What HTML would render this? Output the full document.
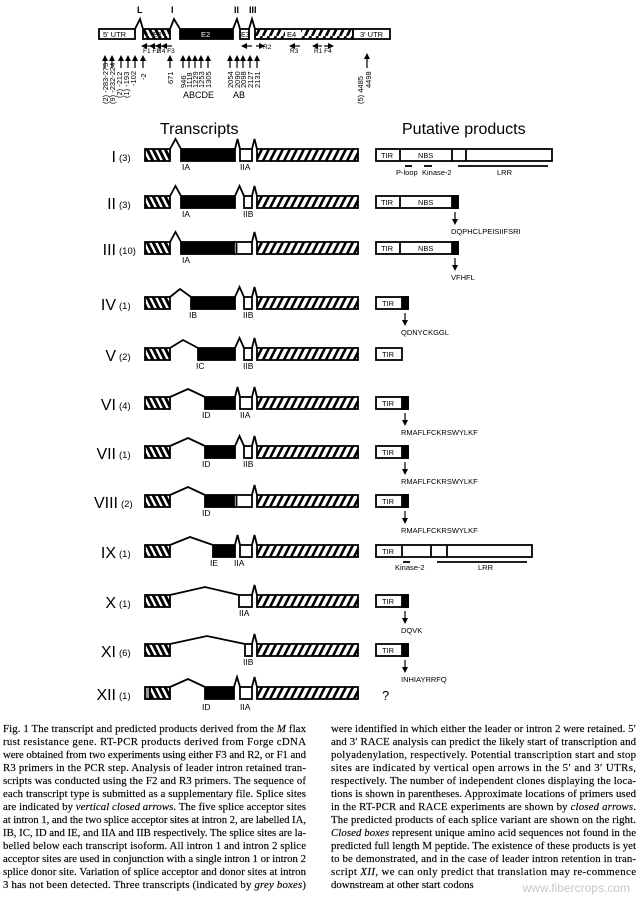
<!DOCTYPE html>
<html><head><meta charset="utf-8"><style>
html,body{margin:0;padding:0;background:#fff;}
svg{display:block;}
.s{font-family:"Liberation Sans",sans-serif;}
.c{font-family:"Liberation Serif",serif;font-size:10.8px;fill:#000;stroke:#000;stroke-width:0.15px;}
</style></head><body>
<svg width="640" height="900" viewBox="0 0 640 900" xmlns="http://www.w3.org/2000/svg">
<defs>
<pattern id="hl" width="6" height="12" patternUnits="userSpaceOnUse"><rect width="6" height="12" fill="#fff"/><path d="M-3,0 L3,12 M3,0 L9,12" stroke="#000" stroke-width="3"/></pattern>
<pattern id="hr" width="7" height="12" patternUnits="userSpaceOnUse"><rect width="7" height="12" fill="#fff"/><path d="M3,0 L-3,12 M10,0 L4,12" stroke="#000" stroke-width="2.6"/></pattern>
<marker id="ah" markerWidth="5" markerHeight="5" refX="2.5" refY="2.5" orient="auto"><path d="M0,0 L5,2.5 L0,5 z" fill="#000"/></marker>
</defs>
<g stroke="#000" stroke-width="1.8" fill="none">
<!-- top gene model -->
<g>
<rect x="99" y="29" width="36" height="10" fill="#fff"/>
<rect x="143" y="29" width="27" height="10" fill="url(#hl)"/>
<rect x="180" y="29" width="53" height="10" fill="#000"/>
<rect x="240" y="29" width="9" height="10" fill="#fff"/>
<rect x="255" y="29" width="98" height="10" fill="url(#hr)"/>
<rect x="285" y="30" width="16" height="8" fill="#fff" stroke="none"/>
<rect x="353" y="29" width="37" height="10" fill="#fff"/>
<polyline points="135,29 140,19 143,29"/>
<polyline points="170,29 174,19 180,29"/>
<polyline points="233,29 237,19 240,29"/>
<polyline points="249,29 252,19 255,29"/>
</g>
<g marker-end="url(#ah)" stroke-width="1.2">
<line x1="105" y1="68" x2="105" y2="58"/><line x1="112" y1="68" x2="112" y2="58"/><line x1="121" y1="68" x2="121" y2="58"/><line x1="128" y1="68" x2="128" y2="58"/><line x1="135" y1="68" x2="135" y2="58"/><line x1="143" y1="68" x2="143" y2="58"/>
<line x1="170" y1="68" x2="170" y2="58"/><line x1="183" y1="68" x2="183" y2="58"/><line x1="189" y1="68" x2="189" y2="58"/><line x1="195" y1="68" x2="195" y2="58"/><line x1="201" y1="68" x2="201" y2="58"/><line x1="208" y1="68" x2="208" y2="58"/>
<line x1="230" y1="68" x2="230" y2="58"/><line x1="237" y1="68" x2="237" y2="58"/><line x1="243" y1="68" x2="243" y2="58"/><line x1="250" y1="68" x2="250" y2="58"/><line x1="257" y1="68" x2="257" y2="58"/>
<line x1="367" y1="68" x2="367" y2="56"/>
<line x1="152" y1="46" x2="144" y2="46"/><line x1="160" y1="46" x2="152" y2="46"/><line x1="166" y1="46" x2="158" y2="46"/><line x1="172" y1="46" x2="164" y2="46"/>
<line x1="252" y1="46" x2="244" y2="46"/><line x1="256" y1="46" x2="262" y2="46"/>
<line x1="300" y1="46" x2="292" y2="46"/><line x1="322" y1="46" x2="315" y2="46"/><line x1="324" y1="46" x2="331" y2="46"/>
</g>
</g>
<g class="s" font-size="9" fill="#000">
<text x="137" y="13" font-weight="bold">L</text><text x="171" y="13" font-weight="bold">I</text><text x="234" y="13" font-weight="bold">II</text><text x="249" y="13" font-weight="bold">III</text>
<text x="103" y="37" font-size="7.5">5' UTR</text><text x="153" y="37" font-size="7.5">E1</text>
<text x="201" y="37" font-size="7.5" fill="#fff">E2</text><text x="241" y="37" font-size="7">E3</text>
<text x="287" y="37" font-size="7.5">E4</text><text x="360" y="37" font-size="7.5">3' UTR</text>
<g font-size="6.5"><text x="143" y="53">F1 F2</text><text x="157" y="53">R4 F3</text><text x="263" y="49">R2</text><text x="290" y="53">R3</text><text x="314" y="53">R1 F4</text></g>
<g font-size="7.5">
<text transform="translate(108,104) rotate(-90)">(2) -283-275</text>
<text transform="translate(115,104) rotate(-90)">(9) -232-224</text>
<text transform="translate(122,98) rotate(-90)">(2) -212</text>
<text transform="translate(129,98) rotate(-90)">(1) -193</text>
<text transform="translate(136,86) rotate(-90)">-102</text>
<text transform="translate(146,80) rotate(-90)">-2</text>
<text transform="translate(173,84) rotate(-90)">671</text>
<text transform="translate(186,88) rotate(-90)">946</text>
<text transform="translate(192,88) rotate(-90)">1118</text>
<text transform="translate(198,88) rotate(-90)">1229</text>
<text transform="translate(204,88) rotate(-90)">1253</text>
<text transform="translate(211,88) rotate(-90)">1305</text>
<text transform="translate(233,88) rotate(-90)">2054</text>
<text transform="translate(240,88) rotate(-90)">2090</text>
<text transform="translate(246,88) rotate(-90)">2098</text>
<text transform="translate(253,88) rotate(-90)">2127</text>
<text transform="translate(260,88) rotate(-90)">2131</text>
<text transform="translate(363,104) rotate(-90)">(5) 4485</text>
<text transform="translate(371,88) rotate(-90)">4498</text>
</g>
<text x="183" y="98" font-size="9">ABCDE</text><text x="233" y="98" font-size="9">AB</text>
<text x="160" y="134" font-size="16">Transcripts</text>
<text x="402" y="134" font-size="16">Putative products</text>
</g>

<g stroke="#000" stroke-width="1.8" fill="none">
<g transform="translate(0,149)"><rect x="145" width="25" height="12" fill="url(#hl)"/><rect x="257" width="101" height="12" fill="url(#hr)"/>
<polyline points="170,0 175.5,-10 181,0"/><rect x="181" width="54" height="12" fill="#000"/><polyline points="235,0 237.5,-10 240,0"/><rect x="240" width="12" height="12" fill="#fff"/><polyline points="252,0 254.5,-10 257,0"/>
<rect x="376" width="176" height="12" fill="#fff"/><line x1="400" y1="0" x2="400" y2="12"/><line x1="452" y1="0" x2="452" y2="12"/><line x1="466" y1="0" x2="466" y2="12"/>
<line x1="405" y1="17" x2="412" y2="17"/><line x1="424" y1="17" x2="432" y2="17"/><line x1="458" y1="17" x2="548" y2="17"/></g>
<g transform="translate(0,196)"><rect x="145" width="25" height="12" fill="url(#hl)"/><rect x="257" width="101" height="12" fill="url(#hr)"/>
<polyline points="170,0 175.5,-10 181,0"/><rect x="181" width="54" height="12" fill="#000"/><polyline points="235,0 239.5,-10 244,0"/><rect x="244" width="8" height="12" fill="#fff"/><polyline points="252,0 254.5,-10 257,0"/>
<rect x="376" width="82" height="12" fill="#fff"/><line x1="400" y1="0" x2="400" y2="12"/><rect x="452" width="6" height="12" fill="#000"/></g>
<g transform="translate(0,242)"><rect x="145" width="25" height="12" fill="url(#hl)"/><rect x="257" width="101" height="12" fill="url(#hr)"/>
<polyline points="170,0 175.5,-10 181,0"/><rect x="181" width="53" height="12" fill="#000"/><rect x="234" width="18" height="12" fill="#fff"/><line x1="236.5" y1="1" x2="236.5" y2="11"/><polyline points="252,0 254.5,-10 257,0"/>
<rect x="376" width="82" height="12" fill="#fff"/><line x1="400" y1="0" x2="400" y2="12"/><rect x="452" width="6" height="12" fill="#000"/></g>
<g transform="translate(0,297)"><rect x="145" width="25" height="12" fill="url(#hl)"/><rect x="257" width="101" height="12" fill="url(#hr)"/>
<polyline points="170,0 180,-8 191,0"/><rect x="191" width="44" height="12" fill="#000"/><polyline points="235,0 239.5,-10 244,0"/><rect x="244" width="8" height="12" fill="#fff"/><polyline points="252,0 254.5,-10 257,0"/>
<rect x="376" width="32" height="12" fill="#fff"/><rect x="402" width="6" height="12" fill="#000"/></g>
<g transform="translate(0,348)"><rect x="145" width="25" height="12" fill="url(#hl)"/><rect x="257" width="101" height="12" fill="url(#hr)"/>
<polyline points="170,0 183,-8 198,0"/><rect x="198" width="37" height="12" fill="#000"/><polyline points="235,0 239.5,-10 244,0"/><rect x="244" width="8" height="12" fill="#fff"/><polyline points="252,0 254.5,-10 257,0"/>
<rect x="376" width="26" height="12" fill="#fff"/></g>
<g transform="translate(0,397)"><rect x="145" width="25" height="12" fill="url(#hl)"/><rect x="257" width="101" height="12" fill="url(#hr)"/>
<polyline points="170,0 188,-8 205,0"/><rect x="205" width="30" height="12" fill="#000"/><polyline points="235,0 237.5,-10 240,0"/><rect x="240" width="12" height="12" fill="#fff"/><polyline points="252,0 254.5,-10 257,0"/>
<rect x="376" width="32" height="12" fill="#fff"/><rect x="402" width="6" height="12" fill="#000"/></g>
<g transform="translate(0,446)"><rect x="145" width="25" height="12" fill="url(#hl)"/><rect x="257" width="101" height="12" fill="url(#hr)"/>
<polyline points="170,0 188,-8 205,0"/><rect x="205" width="30" height="12" fill="#000"/><polyline points="235,0 239.5,-10 244,0"/><rect x="244" width="8" height="12" fill="#fff"/><polyline points="252,0 254.5,-10 257,0"/>
<rect x="376" width="32" height="12" fill="#fff"/><rect x="402" width="6" height="12" fill="#000"/></g>
<g transform="translate(0,495)"><rect x="145" width="25" height="12" fill="url(#hl)"/><rect x="257" width="101" height="12" fill="url(#hr)"/>
<polyline points="170,0 188,-8 205,0"/><rect x="205" width="29" height="12" fill="#000"/><rect x="234" width="18" height="12" fill="#fff"/><line x1="236.5" y1="1" x2="236.5" y2="11"/><polyline points="252,0 254.5,-10 257,0"/>
<rect x="376" width="32" height="12" fill="#fff"/><rect x="402" width="6" height="12" fill="#000"/></g>
<g transform="translate(0,545)"><rect x="145" width="25" height="12" fill="url(#hl)"/><rect x="257" width="101" height="12" fill="url(#hr)"/>
<polyline points="170,0 190,-8 213,0"/><rect x="213" width="22" height="12" fill="#000"/><polyline points="235,0 237.5,-10 240,0"/><rect x="240" width="12" height="12" fill="#fff"/><polyline points="252,0 254.5,-10 257,0"/>
<rect x="376" width="156" height="12" fill="#fff"/><line x1="402" y1="0" x2="402" y2="12"/><line x1="431" y1="0" x2="431" y2="12"/><line x1="447" y1="0" x2="447" y2="12"/>
<line x1="403" y1="17" x2="410" y2="17"/><line x1="437" y1="17" x2="527" y2="17"/></g>
<g transform="translate(0,595)"><rect x="145" width="25" height="12" fill="url(#hl)"/><rect x="257" width="101" height="12" fill="url(#hr)"/>
<polyline points="170,0 205,-8 239,0"/><rect x="239" width="13" height="12" fill="#fff"/><polyline points="252,0 254.5,-10 257,0"/>
<rect x="376" width="32" height="12" fill="#fff"/><rect x="402" width="6" height="12" fill="#000"/></g>
<g transform="translate(0,644)"><rect x="145" width="25" height="12" fill="url(#hl)"/><rect x="257" width="101" height="12" fill="url(#hr)"/>
<polyline points="170,0 207,-8 245,0"/><rect x="245" width="7" height="12" fill="#fff"/><polyline points="252,0 254.5,-10 257,0"/>
<rect x="376" width="32" height="12" fill="#fff"/><rect x="402" width="6" height="12" fill="#000"/></g>
<g transform="translate(0,687)"><rect x="145" width="5" height="12" fill="#999"/><rect x="150" width="20" height="12" fill="url(#hl)"/><rect x="257" width="101" height="12" fill="url(#hr)"/>
<polyline points="170,0 188,-8 205,0"/><rect x="205" width="29" height="12" fill="#000"/><polyline points="234,0 237,-10 240,0"/><rect x="240" width="12" height="12" fill="#fff"/><polyline points="252,0 254.5,-10 257,0"/></g>
<g stroke-width="1.2" marker-end="url(#ah)">
<line x1="455" y1="212" x2="455" y2="222"/><line x1="455" y1="258" x2="455" y2="268"/>
<line x1="405" y1="313" x2="405" y2="323"/><line x1="405" y1="413" x2="405" y2="423"/><line x1="405" y1="462" x2="405" y2="472"/><line x1="405" y1="511" x2="405" y2="521"/><line x1="405" y1="611" x2="405" y2="621"/><line x1="405" y1="660" x2="405" y2="670"/>
</g>
</g>

<g class="s" fill="#000">
<g font-size="16">
<text x="116" y="162" text-anchor="end">I</text><text x="116" y="209" text-anchor="end">II</text><text x="116" y="255" text-anchor="end">III</text><text x="116" y="310" text-anchor="end">IV</text><text x="116" y="361" text-anchor="end">V</text><text x="116" y="410" text-anchor="end">VI</text><text x="116" y="459" text-anchor="end">VII</text><text x="118" y="508" text-anchor="end">VIII</text><text x="116" y="558" text-anchor="end">IX</text><text x="116" y="608" text-anchor="end">X</text><text x="116" y="657" text-anchor="end">XI</text><text x="116" y="700" text-anchor="end">XII</text>
</g>
<g font-size="9.5">
<text x="119" y="161">(3)</text><text x="119" y="208">(3)</text><text x="119" y="254">(10)</text><text x="119" y="309">(1)</text><text x="119" y="360">(2)</text><text x="119" y="409">(4)</text><text x="119" y="458">(1)</text><text x="121" y="507">(2)</text><text x="119" y="557">(1)</text><text x="119" y="607">(1)</text><text x="119" y="656">(6)</text><text x="119" y="699">(1)</text>
</g>
<g font-size="8.5">
<text x="182" y="170">IA</text><text x="240" y="170">IIA</text>
<text x="182" y="217">IA</text><text x="243" y="217">IIB</text>
<text x="182" y="263">IA</text>
<text x="189" y="318">IB</text><text x="243" y="318">IIB</text>
<text x="196" y="369">IC</text><text x="243" y="369">IIB</text>
<text x="202" y="418">ID</text><text x="240" y="418">IIA</text>
<text x="202" y="467">ID</text><text x="243" y="467">IIB</text>
<text x="202" y="516">ID</text>
<text x="210" y="566">IE</text><text x="234" y="566">IIA</text>
<text x="239" y="616">IIA</text>
<text x="243" y="665">IIB</text>
<text x="202" y="710">ID</text><text x="240" y="710">IIA</text>
</g>
<g font-size="7.5">
<text x="381" y="158">TIR</text><text x="418" y="158">NBS</text>
<text x="396" y="175">P-loop</text><text x="422" y="175">Kinase-2</text><text x="497" y="175">LRR</text>
<text x="381" y="205">TIR</text><text x="418" y="205">NBS</text><text x="451" y="234">DQPHCLPEISIIFSRI</text>
<text x="381" y="251">TIR</text><text x="418" y="251">NBS</text><text x="451" y="280">VFHFL</text>
<text x="382" y="306">TIR</text><text x="401" y="335">QDNYCKGGL</text>
<text x="382" y="357">TIR</text>
<text x="382" y="406">TIR</text><text x="401" y="435">RMAFLFCKRSWYLKF</text>
<text x="382" y="455">TIR</text><text x="401" y="484">RMAFLFCKRSWYLKF</text>
<text x="382" y="504">TIR</text><text x="401" y="533">RMAFLFCKRSWYLKF</text>
<text x="382" y="554">TIR</text><text x="395" y="570">Kinase-2</text><text x="478" y="570">LRR</text>
<text x="382" y="604">TIR</text><text x="401" y="633">DQVK</text>
<text x="382" y="653">TIR</text><text x="401" y="682">INHIAYRRFQ</text>
</g>
<text x="382" y="700" font-size="13">?</text>
</g>

<g class="c">
<text x="3" y="732" textLength="303" lengthAdjust="spacing">Fig. 1  The transcript and predicted products derived from the <tspan font-style="italic">M</tspan> flax</text>
<text x="3" y="745" textLength="303" lengthAdjust="spacing">rust resistance gene. RT-PCR products derived from Forge cDNA</text>
<text x="3" y="758" textLength="303" lengthAdjust="spacing">were obtained from two experiments using either F3 and R2, or F1 and</text>
<text x="3" y="771" textLength="303" lengthAdjust="spacing">R3 primers in the PCR step. Analysis of leader intron retained tran-</text>
<text x="3" y="784" textLength="303" lengthAdjust="spacing">scripts was conducted using the F2 and R3 primers. The sequence of</text>
<text x="3" y="797" textLength="303" lengthAdjust="spacing">each transcript type is submitted as a supplementary file. Splice sites</text>
<text x="3" y="810" textLength="303" lengthAdjust="spacing">are indicated by <tspan font-style="italic">vertical closed arrows</tspan>. The five splice acceptor sites</text>
<text x="3" y="823" textLength="303" lengthAdjust="spacing">at intron 1, and the two splice acceptor sites at intron 2, are labelled IA,</text>
<text x="3" y="836" textLength="303" lengthAdjust="spacing">IB, IC, ID and IE, and IIA and IIB respectively. The splice sites are la-</text>
<text x="3" y="849" textLength="303" lengthAdjust="spacing">belled below each transcript isoform. All intron 1 and intron 2 splice</text>
<text x="3" y="862" textLength="303" lengthAdjust="spacing">acceptor sites are used in conjunction with a single intron 1 or intron 2</text>
<text x="3" y="875" textLength="303" lengthAdjust="spacing">splice donor site. Variation of splice acceptor and donor sites at intron</text>
<text x="3" y="888" textLength="303" lengthAdjust="spacing">3 has not been detected. Three transcripts (indicated by <tspan font-style="italic">grey boxes</tspan>)</text>

<text x="331" y="732" textLength="305" lengthAdjust="spacing">were identified in which either the leader or intron 2 were retained. 5′</text>
<text x="331" y="745" textLength="305" lengthAdjust="spacing">and 3′ RACE analysis can predict the likely start of transcription and</text>
<text x="331" y="758" textLength="305" lengthAdjust="spacing">polyadenylation, respectively. Potential transcription start and stop</text>
<text x="331" y="771" textLength="305" lengthAdjust="spacing">sites are indicated by vertical open arrows in the 5′ and 3′ UTRs,</text>
<text x="331" y="784" textLength="305" lengthAdjust="spacing">respectively. The number of independent clones displaying the loca-</text>
<text x="331" y="797" textLength="305" lengthAdjust="spacing">tions is shown in parentheses. Approximate locations of primers used</text>
<text x="331" y="810" textLength="305" lengthAdjust="spacing">in the RT-PCR and RACE experiments are shown by <tspan font-style="italic">closed arrows</tspan>.</text>
<text x="331" y="823" textLength="305" lengthAdjust="spacing">The predicted products of each splice variant are shown on the right.</text>
<text x="331" y="836" textLength="305" lengthAdjust="spacing"><tspan font-style="italic">Closed boxes</tspan> represent unique amino acid sequences not found in the</text>
<text x="331" y="849" textLength="305" lengthAdjust="spacing">predicted full length M peptide. The existence of these products is yet</text>
<text x="331" y="862" textLength="305" lengthAdjust="spacing">to be demonstrated, and in the case of leader intron retention in tran-</text>
<text x="331" y="875" textLength="305" lengthAdjust="spacing">script <tspan font-style="italic">XII</tspan>, we can only predict that translation may re-commence</text>
<text x="331" y="888">downstream at other start codons</text>
</g>
<text x="630" y="892" text-anchor="end" font-family="Liberation Sans,sans-serif" font-size="12" fill="#c8c8c8">www.fibercrops.com</text>
</svg>
</body></html>
